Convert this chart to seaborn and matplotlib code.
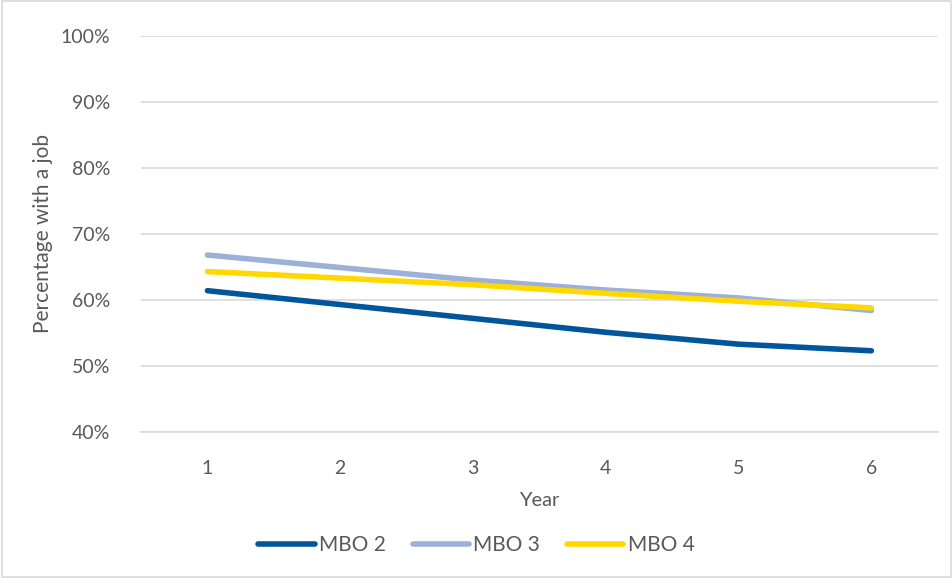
import numpy as np
import pandas as pd
import matplotlib.pyplot as plt
import seaborn as sns
from matplotlib.patches import Rectangle
from matplotlib.ticker import FixedLocator

years = [1, 2, 3, 4, 5, 6]
mbo2 = [61.4, 59.3, 57.2, 55.1, 53.3, 52.3]
mbo3 = [66.8, 64.9, 63.0, 61.5, 60.3, 58.4]
mbo4 = [64.3, 63.3, 62.3, 61.0, 59.8, 58.8]
series = ["MBO 2", "MBO 3", "MBO 4"]
colors = ["#00559B", "#9DB0D8", "#FFD800"]

df = pd.DataFrame({
    "Year": years * 3,
    "Value": mbo2 + mbo3 + mbo4,
    "Series": [s for s in series for _ in years],
})

sns.set_style("white")
plt.rcParams["font.family"] = ["Lato", "DejaVu Sans"]
text_col = "#595959"
grid_col = "#d9d9d9"

fig = plt.figure(figsize=(9.53, 5.78), dpi=100)
ax = fig.add_axes([0.148, 0.2526, 0.836, 0.6855])

sns.lineplot(data=df, x="Year", y="Value", hue="Series", palette=colors,
             linewidth=4, ax=ax, legend=True, solid_capstyle="round")

ax.set_xlim(0.5, 6.5)
ax.set_ylim(40, 100)
ax.set_yticks(np.arange(40, 101, 10))
ax.set_yticklabels([f"{v}%" for v in range(40, 101, 10)])
ax.set_xticks(years)
ax.xaxis.set_minor_locator(FixedLocator(np.arange(0.5, 6.6, 1)))
ax.yaxis.grid(True, color=grid_col, linewidth=1.2)
ax.set_axisbelow(True)

for s in ["top", "right", "left"]:
    ax.spines[s].set_visible(False)
ax.spines["bottom"].set_color(grid_col)
ax.spines["bottom"].set_linewidth(1.2)
ax.tick_params(axis="x", which="major", length=0, pad=20, labelsize=14, labelcolor=text_col)
ax.tick_params(axis="x", which="minor", length=6, width=1.2, color=grid_col, direction="out")
ax.tick_params(axis="y", length=0, pad=22, labelsize=14, labelcolor=text_col)

ax.set_xlabel("Year", fontsize=14.5, color=text_col, labelpad=11)
ax.set_ylabel("Percentage with a job", fontsize=15, color=text_col, labelpad=6)

handles, labels = ax.get_legend_handles_labels()
ax.legend(handles, labels, loc="center", bbox_to_anchor=(0.5, 0.057),
          bbox_transform=fig.transFigure, ncol=3, frameon=False,
          fontsize=15, labelcolor=text_col, handlelength=2.7,
          handletextpad=0.2, columnspacing=1.3)

fig.patches.append(Rectangle((0.002, 0.002), 0.996, 0.996, transform=fig.transFigure,
                             fill=False, edgecolor=grid_col, linewidth=1.2))

fig.savefig("out.png", dpi=100)
